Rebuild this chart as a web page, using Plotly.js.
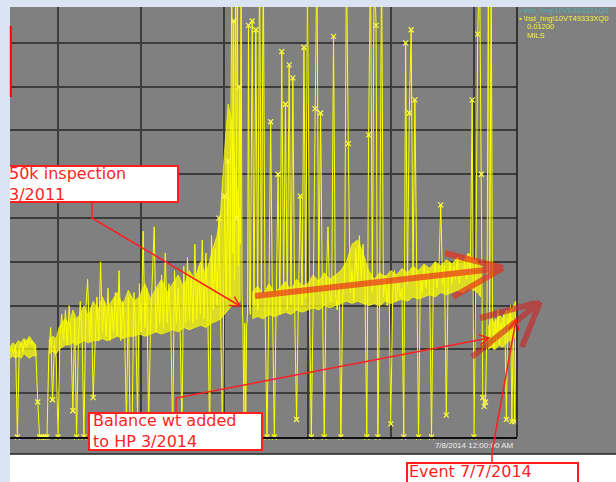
<!DOCTYPE html>
<html>
<head>
<meta charset="utf-8">
<script src="https://cdn.plot.ly/plotly-3.0.1.min.js"></script>
<style>html,body{margin:0;padding:0;background:#dae4f3;}#chart{width:616px;height:482px;}</style>
</head>
<body>
<div id="chart"></div>
<script>
// ---- Data: vibration trend readings (mils), sampled in days from chart start ----
const periodAStart = 0,   periodAStep = 2;
const periodAMils = [1.95, 2.05, 1.9, 2.1, 0, 2.0, 2.15, 1.95, 2.2, 2.05, 2.25, 2.1, 2.2, 2.05, 1.95, 0.8, 0, 0, 0, 0, 0, 1.9, 2.5, 0.85, 2.1, 1.8];

const periodBStart = 52,  periodBStep = 2;
const periodBMils = [
  0, 2.3, 2.8, 2.2, 2.9, 2.1, 3.0, 2.3, 0.6, 2.7,
  0, 2.2, 3.1, 2.3, 0, 2.9, 3.6, 2.2, 3.0, 0.9,
  2.3, 3.2, 2.2, 4.0, 2.4, 3.1, 2.3, 3.4, 2.2, 3.0,
  2.4, 3.3, 2.3, 3.8, 2.2, 3.1, 2.4, 0.3, 3.2, 0,
  0, 3.3, 2.5, 0.5, 3.5, 2.4, 4.7, 2.5, 3.4, 0.2,
  2.5, 3.6, 4.8, 2.4, 3.4, 2.6, 3.7, 2.5, 4.2, 2.6,
  3.5, 2.5, 0.1, 3.8, 2.6, 3.4, 2.5, 0.2, 3.9, 2.6,
  4.1, 2.7, 3.7, 2.6, 4.4, 2.7, 3.9, 2.8, 4.5, 2.7,
  4.2, 2.8, 0, 4.6, 2.9, 4.3, 3.0, 5.0, 2.8, 0,
  5.5, 3.1, 6.3, 3.2];

const periodCStart = 240, periodCStep = 1;
const periodCMils = [11, 4.2, 9.5, 3.6, 11, 5.0, 11, 3.9, 8.0, 4.4, 11, 3.3, 2.5, 0.5, 2.6, 0.2, 2.5, 2.8, 9.4, 3.0];

const periodDStart = 260, periodDStep = 2;
const periodDMils = [
  2.8, 9.5, 3.0, 9.3, 2.9, 11, 3.2, 11, 2.8, 0,
  3.0, 7.2, 2.9, 0, 3.1, 6.0, 2.8, 8.8, 3.2, 7.6,
  2.9, 8.5, 3.0, 8.2, 2.9, 0.4, 3.1, 5.5, 3.0, 8.9,
  3.2, 11, 3.0, 0, 3.1, 7.5, 11, 3.3, 7.4, 3.2,
  0, 3.4, 4.8, 3.1];

const periodEStart = 348, periodEStep = 2;
const periodEMils = [
  3.1, 9.15, 3.3, 2.9, 3.5, 0, 3.2, 3.6, 11, 6.7,
  3.3, 3.8, 3.1, 4.3, 3.5, 4.6, 3.6, 4.4, 3.4, 0,
  6.9, 11, 3.3, 11, 9.4, 0, 3.5, 11, 3.2, 3.7,
  3.0, 3.6, 0.3, 3.3, 3.8, 3.1, 3.6, 3.2];

const periodFStart = 424, periodFStep = 2;
const periodFMils = [
  3.4, 0, 9.0, 3.5, 7.4, 9.3, 3.6, 7.7, 3.4, 0,
  3.7, 3.3, 3.9, 3.4, 3.8, 3.5, 0, 3.6, 4.0, 3.4,
  3.8, 5.3, 3.5, 3.9, 0.5, 3.6, 4.0, 3.5, 3.9, 3.6,
  4.1, 3.5, 3.8, 3.7, 4.0, 3.6, 4.2, 3.7, 7.7, 0,
  3.9, 9.2, 11];

const periodGStart = 510, periodGStep = 1.5;
const periodGMils = [6.0, 0.9, 0.7, 0.8, 2.6, 11, 2.1, 11, 2.8, 2.0, 2.7, 2.2, 2.9, 2.1, 2.6, 2.3, 2.8, 2.4, 0.4, 2.7, 2.5, 3.0, 0.35, 2.7, 0.35, 3.1];

// dense-reading envelopes (min / max of the continuous readings)
const bandEarlyDays = [0, 3, 6, 9, 12, 15, 18, 21, 24, 28];
const bandEarlyLow  = [1.8, 1.85, 1.8, 1.85, 1.8, 1.9, 1.85, 1.8, 1.85, 1.85];
const bandEarlyHigh = [2.05, 2.15, 2.1, 2.2, 2.15, 2.25, 2.2, 2.3, 2.2, 2.1];

const bandMainDays = [42, 46, 50, 53, 56, 60, 64, 68, 72, 76, 80, 85, 90, 95, 100, 105, 110, 116, 122, 128,
  134, 140, 146, 152, 158, 164, 170, 176, 182, 188, 194, 200, 206, 212, 218, 224, 228, 232, 236, 240, 244, 249];
const bandMainLow  = [1.9, 1.95, 1.9, 2.0, 2.05, 2.1, 2.1, 2.15, 2.1, 2.15, 2.2, 2.15, 2.2, 2.2, 2.25, 2.2, 2.25, 2.3, 2.25, 2.3,
  2.3, 2.35, 2.3, 2.35, 2.4, 2.35, 2.4, 2.45, 2.4, 2.5, 2.45, 2.5, 2.55, 2.5, 2.6, 2.65, 2.7, 2.8, 2.9, 3.0, 3.0, 3.1];
const bandMainHigh = [2.2, 2.3, 2.25, 2.5, 2.6, 2.7, 2.55, 2.9, 2.7, 2.8, 3.0, 2.75, 3.1, 2.9, 3.2, 2.95, 3.1, 3.3, 3.0, 3.35,
  3.1, 3.2, 3.5, 3.15, 3.4, 3.6, 3.3, 3.5, 3.7, 3.4, 3.8, 3.6, 4.0, 3.7, 4.2, 4.6, 5.2, 6.5, 7.6, 7.2, 6.0, 5.0];

const bandLateDays = [262, 268, 274, 280, 286, 292, 298, 304, 310, 316, 322, 328, 334, 340, 346, 352, 358, 364, 370, 376,
  382, 388, 394, 400, 406, 412, 418, 424, 430, 436, 442, 448, 454, 460, 466, 472, 478, 484, 490, 496, 502, 506, 509];
const bandLateLow  = [2.7, 2.75, 2.7, 2.8, 2.75, 2.8, 2.85, 2.8, 2.9, 2.85, 2.9, 2.95, 2.9, 3.0, 2.95, 3.0, 3.05, 3.1, 3.05, 3.1,
  3.05, 3.0, 3.05, 3.0, 3.1, 3.05, 3.1, 3.15, 3.1, 3.2, 3.15, 3.2, 3.25, 3.2, 3.3, 3.25, 3.3, 3.35, 3.3, 3.4, 3.35, 3.3, 3.2];
const bandLateHigh = [3.3, 3.45, 3.25, 3.5, 3.3, 3.4, 3.55, 3.35, 3.6, 3.45, 3.5, 3.7, 3.55, 3.75, 3.6, 3.7, 3.8, 4.0, 4.4, 4.5,
  4.2, 3.8, 3.6, 3.75, 3.65, 3.8, 3.7, 3.85, 3.75, 3.9, 3.8, 3.95, 3.85, 4.0, 3.9, 4.05, 3.95, 4.1, 4.0, 4.2, 4.05, 4.0, 3.9];

const bandPostDays = [517, 521, 525, 529, 533, 537, 541, 545, 547];
const bandPostLow  = [2.0, 2.05, 2.0, 2.1, 2.05, 2.15, 2.2, 2.25, 2.3];
const bandPostHigh = [2.5, 2.7, 2.6, 2.8, 2.7, 2.9, 2.85, 3.0, 3.1];

// axis ticks (days) and labels
const gridDays = [52, 142, 232, 322, 412, 502];
const gridLabels = ['', '', '', '', '', '7/8/2014 12:00:00 AM'];
const dayRange = [0, 548.5];
const milsRange = [0, 9.82];
const milsGrid = [1, 2, 3, 4, 5, 6, 7, 8, 9];

// legend / annotation texts
const tagHoriz = '\u2022 \\hst_hng\\10VE49332XQ0';
const tagVert  = '\u2022 \\hst_hng\\10VT49333XQ0';
const scaleText = '0.01200';
const unitText = 'MILS';
const note1 = ['50k inspection', '3/2011'];
const note2 = ['Balance wt added', 'to HP 3/2014'];
const note3 = 'Event 7/7/2014';

// ---- build series ----
const periods = [
  [periodAStart, periodAStep, periodAMils],
  [periodBStart, periodBStep, periodBMils],
  [periodCStart, periodCStep, periodCMils],
  [periodDStart, periodDStep, periodDMils],
  [periodEStart, periodEStep, periodEMils],
  [periodFStart, periodFStep, periodFMils],
  [periodGStart, periodGStep, periodGMils]
];
const days = [], mils = [];
periods.forEach(([s, st, vals]) => vals.forEach((v, i) => { days.push(s + i * st); mils.push(v); }));
const markDays = [], markMils = [];
mils.forEach((v, i) => { if (v < 1 || (v >= 5 && v < 10)) { markDays.push(days[i]); markMils.push(v); } });

const bands = [
  [bandEarlyDays, bandEarlyLow, bandEarlyHigh],
  [bandMainDays, bandMainLow, bandMainHigh],
  [bandLateDays, bandLateLow, bandLateHigh],
  [bandPostDays, bandPostLow, bandPostHigh]
];
const bandTraces = bands.map(([d, lo, hi]) => ({
  x: d.concat(d.slice().reverse()), y: hi.concat(lo.slice().reverse()),
  type: 'scatter', mode: 'lines', fill: 'toself', fillcolor: 'rgba(255,255,0,0.72)',
  line: {width: 0.8, color: 'rgba(255,255,0,0.9)'}, hoverinfo: 'skip'
}));

// ---- pixel -> paper helpers for decorations ----
const PL = 10, PR = 517, PT = 7, PB = 437;
const X = v => (v - PL) / (PR - PL);
const Y = v => (PB - v) / (PB - PT);
const P = pts => pts.map((p, i) => (i ? 'L' : 'M') + X(p[0]).toFixed(5) + ',' + Y(p[1]).toFixed(5)).join(' ');
function head(tip, from, len, deg) {
  const dx = tip[0] - from[0], dy = tip[1] - from[1], d = Math.hypot(dx, dy);
  const ux = dx / d, uy = dy / d, a = deg * Math.PI / 180;
  const r = s => [tip[0] - len * (ux * Math.cos(a) - uy * s * Math.sin(a)), tip[1] - len * (uy * Math.cos(a) + ux * s * Math.sin(a))];
  return P([r(1), tip, r(-1)]);
}
const rect = (x0, y0, x1, y1, fill, line) => ({type: 'rect', xref: 'paper', yref: 'paper', layer: 'above',
  x0: X(x0), x1: X(x1), y0: Y(y1), y1: Y(y0), fillcolor: fill, line: line || {width: 0}});
const pathShape = (d, color, width) => ({type: 'path', xref: 'paper', yref: 'paper', layer: 'above', path: d,
  fillcolor: 'rgba(0,0,0,0)', line: {color: color, width: width}});

const red = '#ff1f1f';
const shapes = [
  rect(10, 454, 616, 490, '#ffffff'),
  pathShape(P([[10, 454], [616, 454]]), '#222222', 1.5),
  pathShape(P([[517, 7], [517, 437]]), '#1a1a1a', 1.5),
  // thick hand-drawn arrows
  pathShape(P([[255, 296], [503, 268]]) + ' ' + P([[445, 253], [503, 268]]) + ' ' + P([[453, 297], [503, 268]]), 'rgba(235,45,30,0.68)', 6),
  pathShape(P([[472, 357], [540, 302]]) + ' ' + P([[480, 318], [536, 303]]) + ' ' + P([[522, 347], [540, 302]]), 'rgba(205,35,35,0.62)', 6),
  // thin connectors
  pathShape(P([[92, 202], [92, 218], [240, 306]]), red, 1.5),
  pathShape(head([240, 306], [92, 218], 11, 28), red, 1.5),
  pathShape(P([[176, 413], [176, 398], [489, 338]]), red, 1.5),
  pathShape(head([489, 338], [176, 398], 11, 28), red, 1.5),
  pathShape(P([[492, 463], [492, 452], [516, 320]]), red, 1.5),
  pathShape(head([516, 320], [492, 452], 11, 28), red, 1.5),
  // boxes
  rect(4, 166, 178, 202, '#ffffff', {color: red, width: 2}),
  rect(89, 413, 262, 450, '#ffffff', {color: red, width: 2}),
  rect(407, 463, 578, 492, '#ffffff', {color: red, width: 2}),
  // light blue slide background strips
  rect(0, 0, 10, 482, '#dae4f3'),
  rect(0, 0, 616, 7, '#dae4f3'),
  pathShape(P([[10.8, 26], [10.8, 97]]), '#ff0000', 2)
];

const txt = (t, x, y, size, color, fam) => ({text: t, xref: 'paper', yref: 'paper', x: X(x), y: Y(y),
  xanchor: 'left', yanchor: 'middle', align: 'left', showarrow: false, borderpad: 0,
  font: {family: fam || 'DejaVu Sans, sans-serif', size: size, color: color}});
const small = 'Liberation Sans, Arial, sans-serif';
const annotations = [
  txt(note1.join('<br>'), 8, 184, 16, red),
  txt(note2.join('<br>'), 92, 431, 16, red),
  txt(note3, 408, 472, 16, red),
  txt(tagHoriz, 518, 10.5, 7.5, '#4fb0b0', small),
  txt(tagVert, 518, 18.5, 7.5, '#f2f230', small),
  txt(scaleText, 526, 27, 7.5, '#f2f230', small),
  txt(unitText, 526, 35, 7.5, '#f2f230', small)
];

const traces = bandTraces.concat([
  {x: days, y: mils, type: 'scatter', mode: 'lines', line: {color: '#ffff00', width: 1}, hoverinfo: 'skip'},
  {x: markDays, y: markMils, type: 'scatter', mode: 'markers', cliponaxis: false, hoverinfo: 'skip',
   marker: {symbol: 'x-thin', size: 5, color: '#ffff40', line: {color: '#ffff40', width: 1.2}}}
]);

const layout = {
  width: 616, height: 482,
  margin: {l: 10, r: 99, t: 7, b: 45, pad: 0, autoexpand: false},
  paper_bgcolor: '#808080', plot_bgcolor: '#808080',
  showlegend: false,
  xaxis: {range: dayRange, tickmode: 'array', tickvals: gridDays, ticktext: gridLabels, ticks: '',
    showgrid: true, gridcolor: '#3c3c3c', gridwidth: 2, zeroline: false,
    showline: true, linecolor: '#111111', linewidth: 1.5,
    tickfont: {family: small, size: 8, color: '#eeeeee'}, fixedrange: true},
  yaxis: {range: milsRange, tickmode: 'array', tickvals: milsGrid, showticklabels: false, ticks: '',
    showgrid: true, gridcolor: '#3c3c3c', gridwidth: 2, zeroline: false, showline: false, fixedrange: true},
  shapes: shapes,
  annotations: annotations
};

Plotly.newPlot('chart', traces, layout, {staticPlot: true, displayModeBar: false});
</script>
</body>
</html>
